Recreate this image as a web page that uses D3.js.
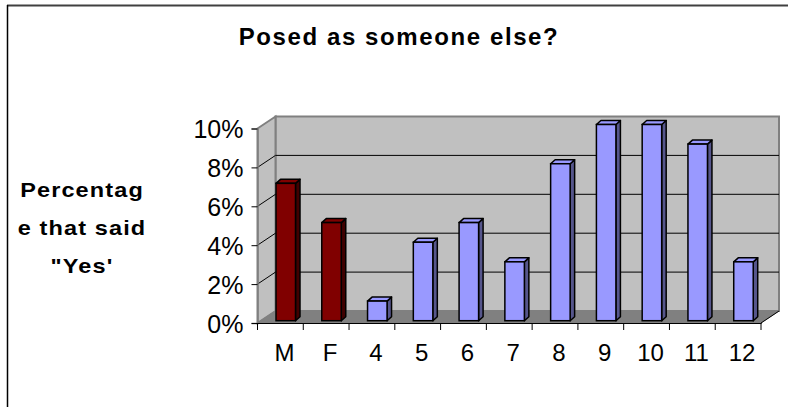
<!DOCTYPE html>
<html>
<head>
<meta charset="utf-8">
<script src="https://cdn.jsdelivr.net/npm/d3@7"></script>
<style>
  html, body { margin: 0; padding: 0; background: #fff; }
  svg { display: block; font-family: "Liberation Sans", Arial, sans-serif; }
</style>
</head>
<body>
<svg id="chart" width="788" height="407"></svg>
<script>
// ---- data ----
const categories = ["M", "F", "4", "5", "6", "7", "8", "9", "10", "11", "12"];
const values = [0.07, 0.05, 0.01, 0.04, 0.05, 0.03, 0.08, 0.10, 0.10, 0.09, 0.03];
const groups = ["gender", "gender", "age", "age", "age", "age", "age", "age", "age", "age", "age"];
const yTicks = [0, 0.02, 0.04, 0.06, 0.08, 0.10];
const titleText = "Posed as someone else?";
const yTitleLines = ["Percentag", "e that said", "\"Yes'"];

const palette = {
  gender: { front: "#800000", top: "#800000", side: "#400000" },
  age:    { front: "#9999FF", top: "#9999FF", side: "#56568C" }
};

// ---- geometry ----
const svg = d3.select("#chart");
const DX = 18, DY = -12;               // wall depth
const x = d3.scaleBand().domain(categories).range([257.5, 761]).paddingInner(0).paddingOuter(0);
const yFront = d3.scaleLinear().domain([0, 0.10]).range([323, 128.5]);
const yBack  = d3.scaleLinear().domain([0, 0.10]).range([323 + DY, 128.5 + DY]);
const yBar   = d3.scaleLinear().domain([0, 0.10]).range([320.7, 124.5]);
const xL = x.range()[0], xR = x.range()[1];

// border
svg.append("line").attr("x1", 7).attr("x2", 788).attr("y1", 5.5).attr("y2", 5.5)
  .attr("stroke", "#404040").attr("stroke-width", 2);
svg.append("line").attr("x1", 7.5).attr("x2", 7.5).attr("y1", 5).attr("y2", 407)
  .attr("stroke", "#000").attr("stroke-width", 1.5);

// back wall
svg.append("polygon")
  .attr("points", [[xL + DX, yBack(0.10)], [xR + DX, yBack(0.10)], [xR + DX, yBack(0)], [xL + DX, yBack(0)]].join(" "))
  .attr("fill", "#C0C0C0").attr("stroke", "#808080").attr("stroke-width", 2);
// left wall
svg.append("polygon")
  .attr("points", [[xL, yFront(0.10)], [xL + DX, yBack(0.10)], [xL + DX, yBack(0)], [xL, yFront(0)]].join(" "))
  .attr("fill", "#C0C0C0").attr("stroke", "#808080").attr("stroke-width", 2);
// floor
svg.append("polygon")
  .attr("points", [[xL, yFront(0)], [xL + DX, yBack(0)], [xR + DX, yBack(0)], [xR, yFront(0)]].join(" "))
  .attr("fill", "#808080").attr("stroke", "#808080").attr("stroke-width", 1);

// gridlines
const inner = yTicks.filter(t => t > 0 && t < 0.10);
svg.append("g").selectAll("line").data(inner).join("line")
  .attr("x1", xL + DX).attr("x2", xR + DX)
  .attr("y1", d => yBack(d)).attr("y2", d => yBack(d))
  .attr("stroke", "#000").attr("stroke-width", 1);
svg.append("g").selectAll("line").data(inner).join("line")
  .attr("x1", xL).attr("x2", xL + DX)
  .attr("y1", d => yFront(d)).attr("y2", d => yBack(d))
  .attr("stroke", "#000").attr("stroke-width", 1);

// y axis
const yAxis = d3.axisLeft(yFront).tickValues(yTicks).tickFormat(d3.format(".0%")).tickSize(6).tickPadding(8);
const gy = svg.append("g").attr("transform", `translate(${xL},0)`).call(yAxis);
gy.select(".domain").attr("stroke", "#808080").attr("stroke-width", 1.5);
gy.selectAll(".tick line").attr("stroke", "#000");
gy.selectAll(".tick text").attr("font-size", 25).attr("fill", "#000")
  .attr("font-family", "Liberation Sans, Arial, sans-serif").attr("dy", "0.36em");

// x axis
const xAxis = d3.axisBottom(x).tickSize(0).tickPadding(0);
const gx = svg.append("g").attr("transform", `translate(0,${yFront(0)})`).call(xAxis);
gx.select(".domain").attr("stroke", "#000").attr("stroke-width", 1.2);
gx.selectAll(".tick text").attr("font-size", 24).attr("fill", "#000")
  .attr("font-family", "Liberation Sans, Arial, sans-serif")
  .attr("dx", 4).attr("y", 37.5).attr("dy", 0);
// x boundary ticks
const bounds = categories.map(c => x(c)).concat([xR]);
svg.append("g").selectAll("line").data(bounds).join("line")
  .attr("x1", d => d).attr("x2", d => d)
  .attr("y1", yFront(0)).attr("y2", yFront(0) + 7)
  .attr("stroke", "#000").attr("stroke-width", 1);
// right diagonal floor edge
svg.append("line").attr("x1", xR).attr("y1", yFront(0)).attr("x2", xR + DX).attr("y2", yBack(0))
  .attr("stroke", "#000").attr("stroke-width", 1);

// bars
const BW = 19.5, BDX = 4.5, BDY = -4, OFF = 18.5;
const data = categories.map((c, i) => ({ c, v: values[i], g: groups[i] }));
const bars = svg.append("g").selectAll("g").data(data).join("g");
bars.each(function (d) {
  const g = d3.select(this);
  const x0 = x(d.c) + OFF, x1 = x0 + BW;
  const yt = yBar(d.v), yb = yBar(0);
  const col = palette[d.g];
  g.append("polygon").attr("points", [[x1, yt], [x1 + BDX, yt + BDY], [x1 + BDX, yb + BDY], [x1, yb]].join(" "))
    .attr("fill", col.side).attr("stroke", "#000").attr("stroke-width", 1.5).attr("stroke-linejoin", "round");
  g.append("polygon").attr("points", [[x0, yt], [x0 + BDX, yt + BDY], [x1 + BDX, yt + BDY], [x1, yt]].join(" "))
    .attr("fill", col.top).attr("stroke", "#000").attr("stroke-width", 1.5).attr("stroke-linejoin", "round");
  g.append("rect").attr("x", x0).attr("y", yt).attr("width", BW).attr("height", yb - yt)
    .attr("fill", col.front).attr("stroke", "#000").attr("stroke-width", 1.5);
});

// title
svg.append("text").attr("x", 399).attr("y", 45).attr("text-anchor", "middle")
  .attr("font-size", 24).attr("font-weight", "bold").attr("letter-spacing", 1.6)
  .text(titleText);

// y title
const yt = svg.append("text").attr("text-anchor", "middle").attr("font-size", 21).attr("font-weight", "bold")
  .attr("transform", "translate(82,0) scale(1.12,1)");
yt.selectAll("tspan").data(yTitleLines).join("tspan")
  .attr("x", 0).attr("y", (d, i) => 197.5 + i * 38)
  .attr("letter-spacing", 1)
  .text(d => d);
</script>
</body>
</html>
